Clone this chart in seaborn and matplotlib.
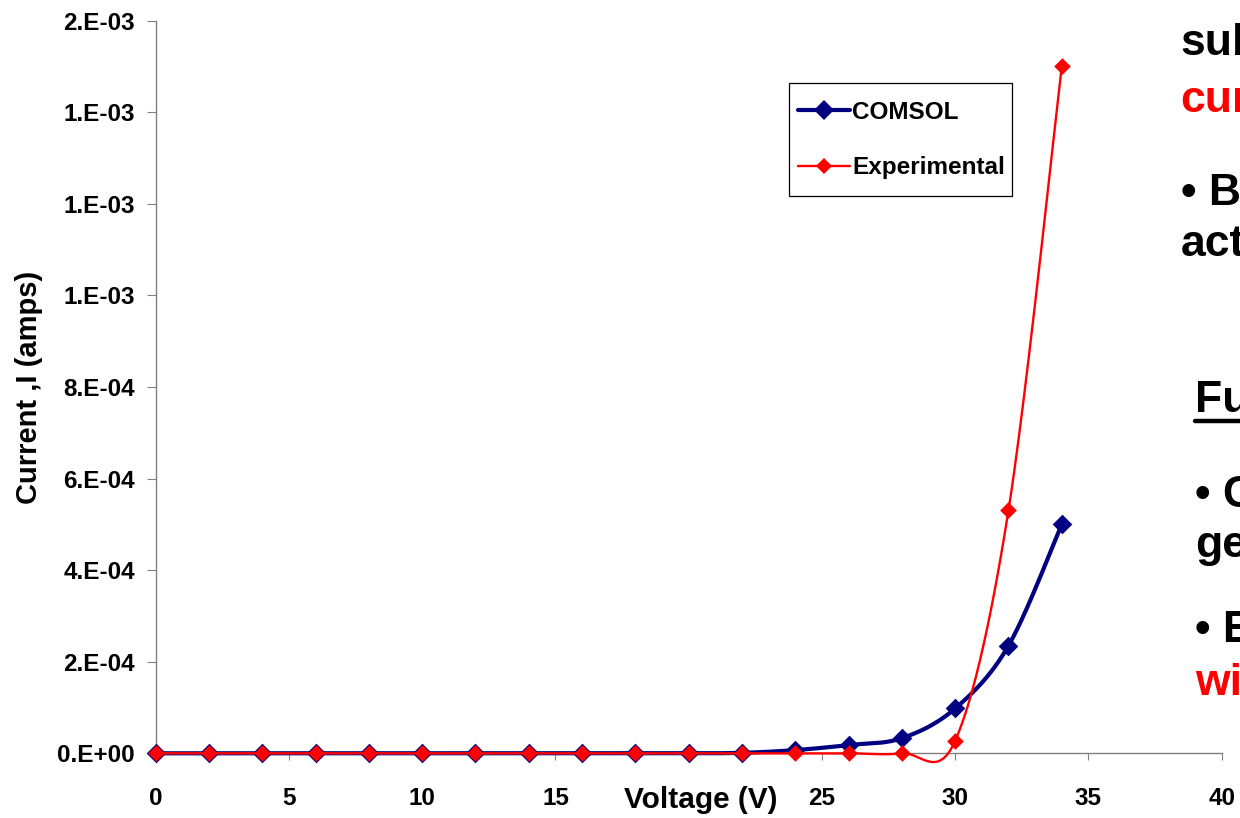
import numpy as np
import pandas as pd
import matplotlib
matplotlib.use("Agg")
import matplotlib.pyplot as plt
import seaborn as sns
from matplotlib.lines import Line2D
from matplotlib.patches import Rectangle
from matplotlib.ticker import FixedLocator, FixedFormatter

# ---------------- data ----------------
voltage = [0, 2, 4, 6, 8, 10, 12, 14, 16, 18, 20, 22, 24, 26, 28, 30, 32, 34]
comsol = [0.0, 0.0, 0.0, 0.0, 0.0, 0.0, 0.0, 0.0, 0.0, 0.0, 0.0,
          1.0e-6, 7.0e-6, 1.8e-5, 3.3e-5, 9.8e-5, 2.35e-4, 5.0e-4]
experimental = [0.0, 0.0, 0.0, 0.0, 0.0, 0.0, 0.0, 0.0, 0.0, 0.0, 0.0,
                0.0, 0.0, 0.0, 0.0, 2.75e-5, 5.31e-4, 1.5e-3]
series_names = ["COMSOL", "Experimental"]

x_ticks = [0, 5, 10, 15, 20, 25, 30, 35, 40]
x_tick_labels = ["0", "5", "10", "15", "", "25", "30", "35", "40"]
y_ticks = [0.0, 2e-4, 4e-4, 6e-4, 8e-4, 1.0e-3, 1.2e-3, 1.4e-3, 1.6e-3]
y_tick_labels = ["0.E+00", "2.E-04", "4.E-04", "6.E-04", "8.E-04",
                 "1.E-03", "1.E-03", "1.E-03", "2.E-03"]

x_label = "Voltage (V)"
y_label = "Current ,I (amps)"

side_texts = ["sub", "cur", "• B", "act", "Fu", "• C", "ge", "• E", "wi"]
side_colors = ["black", "#FF0000", "black", "black", "black",
               "black", "black", "black", "#FF0000"]

# ---------------- style ----------------
sns.set_style("white")
plt.rcParams["font.family"] = ["Liberation Sans", "DejaVu Sans"]
plt.rcParams["font.weight"] = "bold"
plt.rcParams["text.color"] = "black"
plt.rcParams["axes.labelcolor"] = "black"
plt.rcParams["xtick.color"] = "black"
plt.rcParams["ytick.color"] = "black"

NAVY = "#000080"
RED = "#FF0000"
GRAY = "#808080"


def smooth_path(xs, ys, n=40):
    """Excel-like smoothed line (cubic Bezier, Catmull-Rom control points)."""
    xs = np.asarray(xs, float)
    ys = np.asarray(ys, float)
    m = len(xs)
    px, py = [], []
    t = np.linspace(0, 1, n)
    for i in range(m - 1):
        i0 = max(i - 1, 0)
        i3 = min(i + 2, m - 1)
        c1x = xs[i] + (xs[i + 1] - xs[i0]) / 6
        c1y = ys[i] + (ys[i + 1] - ys[i0]) / 6
        c2x = xs[i + 1] - (xs[i3] - xs[i]) / 6
        c2y = ys[i + 1] - (ys[i3] - ys[i]) / 6
        bx = (1 - t) ** 3 * xs[i] + 3 * (1 - t) ** 2 * t * c1x + 3 * (1 - t) * t ** 2 * c2x + t ** 3 * xs[i + 1]
        by = (1 - t) ** 3 * ys[i] + 3 * (1 - t) ** 2 * t * c1y + 3 * (1 - t) * t ** 2 * c2y + t ** 3 * ys[i + 1]
        px.extend(bx[:-1] if i < m - 2 else bx)
        py.extend(by[:-1] if i < m - 2 else by)
    return np.array(px), np.array(py)


fig = plt.figure(figsize=(12.4, 8.18), dpi=100)
W, H = 1240.0, 818.0
left, right, bottom, top = 155.7 / W, 1221.7 / W, 1 - 753.3 / H, 1 - 20.7 / H
ax = fig.add_axes([left, bottom, right - left, top - bottom])

df = pd.DataFrame({"voltage": voltage, "COMSOL": comsol, "Experimental": experimental})

# COMSOL
sx, sy = smooth_path(df["voltage"], df["COMSOL"])
sns.lineplot(x=sx, y=sy, sort=False, color=NAVY, linewidth=3.0, ax=ax,
             zorder=2, clip_on=False, estimator=None)
sns.scatterplot(x=df["voltage"], y=df["COMSOL"], marker="D", s=100, color=NAVY,
                linewidth=0, ax=ax, zorder=3, clip_on=False)
# Experimental
ex, ey = smooth_path(df["voltage"], df["Experimental"])
sns.lineplot(x=ex, y=ey, sort=False, color=RED, linewidth=1.7, ax=ax,
             zorder=4, clip_on=False, estimator=None)
sns.scatterplot(x=df["voltage"], y=df["Experimental"], marker="D", s=72, color=RED,
                linewidth=0, ax=ax, zorder=5, clip_on=False)

ax.set_xlim(0, 40)
ax.set_ylim(0, 1.6e-3)

ax.xaxis.set_major_locator(FixedLocator(x_ticks))
ax.xaxis.set_major_formatter(FixedFormatter(x_tick_labels))
ax.yaxis.set_major_locator(FixedLocator(y_ticks))
ax.yaxis.set_major_formatter(FixedFormatter(y_tick_labels))

for side in ["top", "right"]:
    ax.spines[side].set_visible(False)
for side in ["left", "bottom"]:
    ax.spines[side].set_color(GRAY)
    ax.spines[side].set_linewidth(1.0)

ax.tick_params(axis="y", direction="out", length=6.5, width=0.8, color=GRAY,
               pad=8.4, labelsize=17.5, labelcolor="black", left=True)
ax.tick_params(axis="x", direction="out", length=5, width=0.8, color=GRAY,
               pad=19.4, labelsize=17.5, labelcolor="black", bottom=True)
for lab in ax.get_xticklabels() + ax.get_yticklabels():
    lab.set_fontweight("bold")

axw = (right - left) * W
axh = (top - bottom) * H
ax.set_xlabel(x_label, fontsize=21.5, fontweight="bold", va="baseline", color="black")
ax.xaxis.set_label_coords((700.8 - 155.7) / axw, -(808.3 - 753.3) / axh)
ax.set_ylabel(y_label, fontsize=21, fontweight="bold", va="center", color="black")
ax.yaxis.set_label_coords((28.5 - 155.7) / axw, 0.5)

handles = [
    Line2D([], [], color=NAVY, linewidth=3.0, marker="D", markersize=10,
           markeredgewidth=0),
    Line2D([], [], color=RED, linewidth=1.7, marker="D", markersize=8.5,
           markeredgewidth=0),
]
leg = ax.legend(handles, series_names, loc="upper left",
                bbox_to_anchor=(787.0 / W, 1 - 89.7 / H), bbox_transform=fig.transFigure,
                borderaxespad=0, frameon=False, handlelength=2.15,
                handletextpad=0.08, borderpad=0.45, labelspacing=1.35,
                labelcolor="black",
                prop={"weight": "bold", "size": 17.5})
fig.add_artist(Rectangle((789.3 / W, 1 - 195.7 / H), (1012.3 - 789.3) / W,
                         (195.7 - 82.7) / H, transform=fig.transFigure,
                         facecolor="none", edgecolor="black", linewidth=0.9,
                         zorder=10))

# partially visible slide text on the right edge
side_pos = [(1180.7, 55), (1180.7, 112), (1180.7, 205), (1180.7, 256),
            (1195.0, 412), (1195.0, 507), (1195.0, 557), (1195.0, 642), (1195.0, 695)]
for txt, col, (px_, py_) in zip(side_texts, side_colors, side_pos):
    fig.text(px_ / W, 1 - py_ / H, txt, color=col, fontsize=32, fontweight="bold",
             ha="left", va="baseline")
fig.add_artist(Line2D([1195 / W, 1.0], [1 - 421 / H, 1 - 421 / H],
                      color="black", linewidth=3.2, transform=fig.transFigure))

fig.savefig("out.png", dpi=100)
